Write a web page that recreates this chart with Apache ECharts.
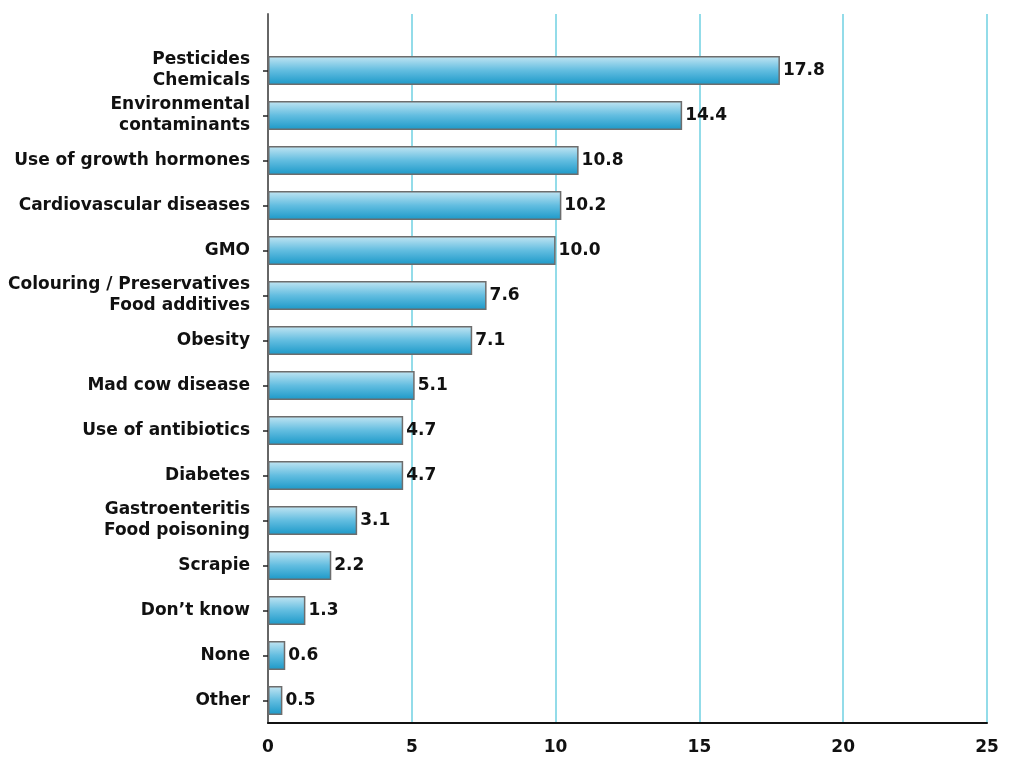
<!DOCTYPE html>
<html>
<head>
<meta charset="utf-8">
<title>Food-related concerns</title>
<script src="https://cdn.jsdelivr.net/npm/echarts@6/dist/echarts.min.js"></script>
<style>
  html, body { margin: 0; padding: 0; background: #ffffff; }
  #chart { width: 1012px; height: 758px; }
</style>
</head>
<body>
<div id="chart"></div>
<script>
// Concerns, listed top to bottom
const categories = [
  'Pesticides\nChemicals',
  'Environmental\ncontaminants',
  'Use of growth hormones',
  'Cardiovascular diseases',
  'GMO',
  'Colouring / Preservatives\nFood additives',
  'Obesity',
  'Mad cow disease',
  'Use of antibiotics',
  'Diabetes',
  'Gastroenteritis\nFood poisoning',
  'Scrapie',
  'Don\u2019t know',
  'None',
  'Other'
];

// Share of answers for each concern
const values = [17.8, 14.4, 10.8, 10.2, 10.0, 7.6, 7.1, 5.1, 4.7, 4.7, 3.1, 2.2, 1.3, 0.6, 0.5];

// Value-axis range and ticks
const axisMin = 0;
const axisMax = 25;
const axisStep = 5;

const FONT = '"DejaVu Sans", sans-serif';

const chart = echarts.init(document.getElementById('chart'), null, { renderer: 'canvas' });

chart.setOption({
  backgroundColor: '#ffffff',
  animation: false,
  grid: [
    // frame: full-height axes and vertical guide lines
    { left: 268, right: 25, top: 14, bottom: 35 },
    // bars
    { left: 268, right: 25, top: 48, bottom: 35 }
  ],
  xAxis: [
    {
      gridIndex: 0,
      type: 'value',
      min: axisMin,
      max: axisMax,
      interval: axisStep,
      axisLine: { show: true, lineStyle: { color: '#111', width: 2 } },
      axisTick: { show: false },
      axisLabel: {
        color: '#111',
        fontFamily: FONT,
        fontWeight: 'bold',
        fontSize: 17,
        margin: 16
      },
      splitLine: { show: true, lineStyle: { color: '#6fd0e2', width: 1.5 } }
    },
    {
      gridIndex: 1,
      type: 'value',
      min: axisMin,
      max: axisMax,
      show: false
    }
  ],
  yAxis: [
    {
      gridIndex: 0,
      type: 'value',
      min: 0,
      max: 1,
      axisLine: { show: true, lineStyle: { color: '#666', width: 2 } },
      axisTick: { show: false },
      axisLabel: { show: false },
      splitLine: { show: false }
    },
    {
      gridIndex: 1,
      type: 'category',
      inverse: true,
      data: categories,
      axisLine: { show: false },
      axisTick: { show: true, length: 5, alignWithLabel: true, lineStyle: { color: '#222', width: 1.5 } },
      axisLabel: {
        color: '#111',
        fontFamily: FONT,
        fontWeight: 'bold',
        fontSize: 17,
        lineHeight: 21,
        margin: 18,
        align: 'right'
      },
      splitLine: { show: false }
    }
  ],
  series: [
    {
      type: 'bar',
      xAxisIndex: 1,
      yAxisIndex: 1,
      data: values,
      barWidth: 29,
      itemStyle: {
        color: new echarts.graphic.LinearGradient(0, 0, 0, 1, [
          { offset: 0, color: '#c4e6f3' },
          { offset: 0.5, color: '#62bde0' },
          { offset: 1, color: '#1a98c8' }
        ]),
        borderColor: '#6d6d6d',
        borderWidth: 1.5
      },
      label: {
        show: true,
        position: 'right',
        distance: 3,
        color: '#111',
        fontFamily: FONT,
        fontWeight: 'bold',
        fontSize: 17,
        formatter: p => Number(p.value).toFixed(1)
      }
    }
  ]
});
</script>
</body>
</html>
